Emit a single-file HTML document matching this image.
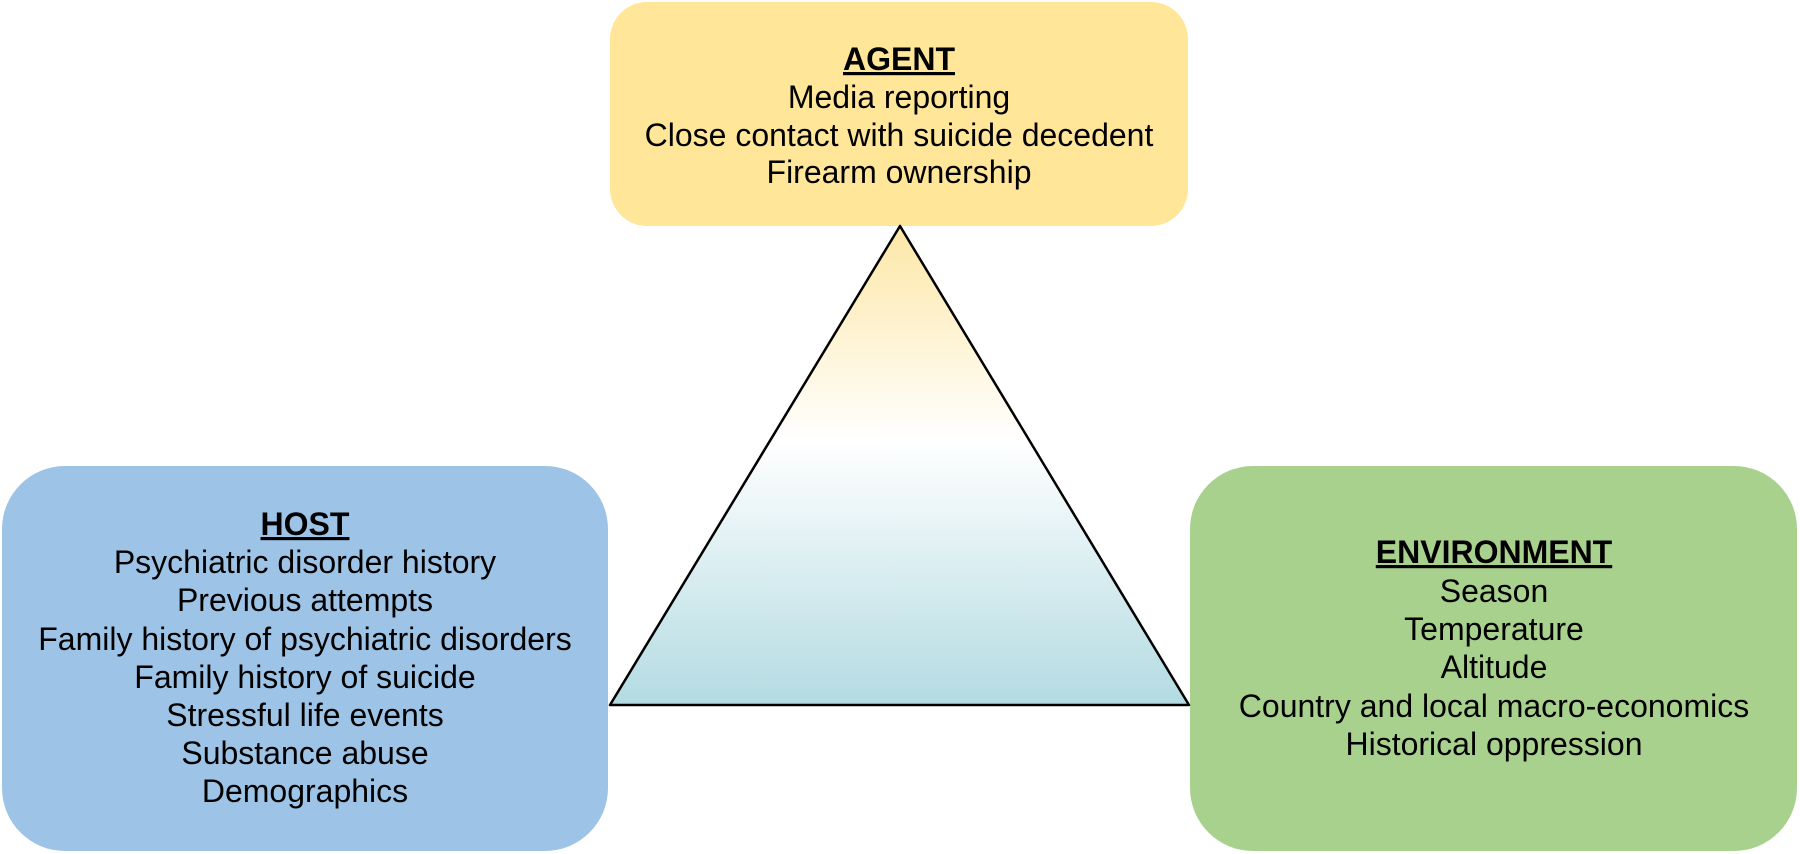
<!DOCTYPE html>
<html><head><meta charset="utf-8"><style>
html,body{margin:0;padding:0;background:#fff;}
svg{display:block;}
text{font-family:"Liberation Sans",Arial,sans-serif;font-size:32px;fill:#000;}
</style></head><body>
<svg width="1800" height="854" viewBox="0 0 1800 854" xmlns="http://www.w3.org/2000/svg">
<defs>
<linearGradient id="g" x1="0" y1="0" x2="0" y2="1">
<stop offset="0" stop-color="#fde7a6"/>
<stop offset="0.45" stop-color="#ffffff"/>
<stop offset="1" stop-color="#b3dbe2"/>
</linearGradient>
</defs>
<rect x="610" y="2" width="578" height="224" rx="37" fill="#ffe699"/>
<rect x="2" y="466" width="606" height="385" rx="63" fill="#9dc3e6"/>
<rect x="1190" y="466" width="607" height="385" rx="63" fill="#a9d18e"/>
<polygon points="900,226 610,705 1189,705" fill="url(#g)" stroke="#000" stroke-width="2.5" stroke-linejoin="round"/>
<g text-anchor="middle">
<text x="899" y="70" font-weight="bold" text-decoration="underline">AGENT</text>
<text x="899" y="108">Media reporting</text>
<text x="899" y="146">Close contact with suicide decedent</text>
<text x="899" y="183">Firearm ownership</text>

<text x="305" y="535" font-weight="bold" text-decoration="underline">HOST</text>
<text x="305" y="573">Psychiatric disorder history</text>
<text x="305" y="611">Previous attempts</text>
<text x="305" y="650">Family history of psychiatric disorders</text>
<text x="305" y="688">Family history of suicide</text>
<text x="305" y="726">Stressful life events</text>
<text x="305" y="764">Substance abuse</text>
<text x="305" y="802">Demographics</text>

<text x="1494" y="563" font-weight="bold" text-decoration="underline">ENVIRONMENT</text>
<text x="1494" y="602">Season</text>
<text x="1494" y="640">Temperature</text>
<text x="1494" y="678">Altitude</text>
<text x="1494" y="717">Country and local macro-economics</text>
<text x="1494" y="755">Historical oppression</text>
</g>
</svg>
</body></html>
